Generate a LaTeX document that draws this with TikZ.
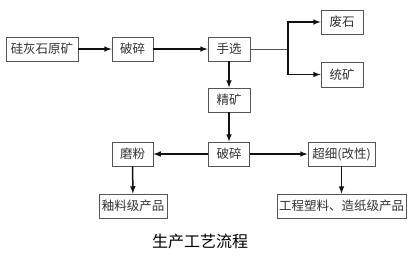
\documentclass[tikz,border=0pt]{standalone}
\usepackage{fontspec}
\setmainfont{Noto Sans CJK SC}
\usepackage{xcolor}
\usepackage{tikz}
\definecolor{cbox}{HTML}{555555}
\definecolor{ctxt}{HTML}{333333}
\definecolor{cline}{HTML}{111111}

\begin{document}
\begin{tikzpicture}[>=latex,x=1pt,y=-1pt,
    box/.style={draw=cbox,line width=0.9pt,fill=white,text=ctxt,inner sep=0pt,
      minimum height=24pt,font=\fontsize{12.5}{14}\selectfont},
    flow/.style={->,line width=1.5pt,cline}]
    \useasboundingbox (0,0) rectangle (413,258);
    \node[box,minimum width=72pt] (ore) at (42,49) {硅灰石原矿};
    \node[box,minimum width=41pt] (crushA) at (132.5,49) {破碎};
    \node[box,minimum width=42pt] (pick) at (229,49) {手选};
    \node[box,minimum width=42pt] (waste) at (342,22) {废石};
    \node[box,minimum width=42pt,minimum height=25pt] (mixed) at (342,74.5) {统矿};
    \node[box,minimum width=42pt] (conc) at (229,100) {精矿};
    \node[box,minimum width=41pt] (crushB) at (229,154) {破碎};
    \node[box,minimum width=41pt] (mill) at (132.5,154) {磨粉};
    \node[box,minimum width=67pt] (fine) at (341.5,154) {超细(改性)};
    \node[box,minimum width=68pt] (glaze) at (133,206) {釉料级产品};
    \node[box,minimum width=129pt] (plastic) at (341.5,206) {工程塑料、造纸级产品};
    \coordinate (split) at (288,49);
    \draw[flow] (ore) -- (crushA);
    \draw[flow] (crushA) -- (pick);
    \draw[line width=0.9pt,cbox] (pick) -- (split);
    \draw[flow] (split) |- (waste);
    \draw[flow] (split) |- (mixed);
    \draw[flow] (pick) -- (conc);
    \draw[flow] (conc) -- (crushB);
    \draw[flow] (crushB) -- (mill);
    \draw[flow] (crushB) -- (fine);
    \draw[flow] (mill) -- (glaze);
    \draw[flow] (fine) -- (fine |- plastic.north);
    \node[font=\fontsize{16}{18}\selectfont,text=black] (title) at (200,241) {生产工艺流程};
  \end{tikzpicture}
\end{document}
